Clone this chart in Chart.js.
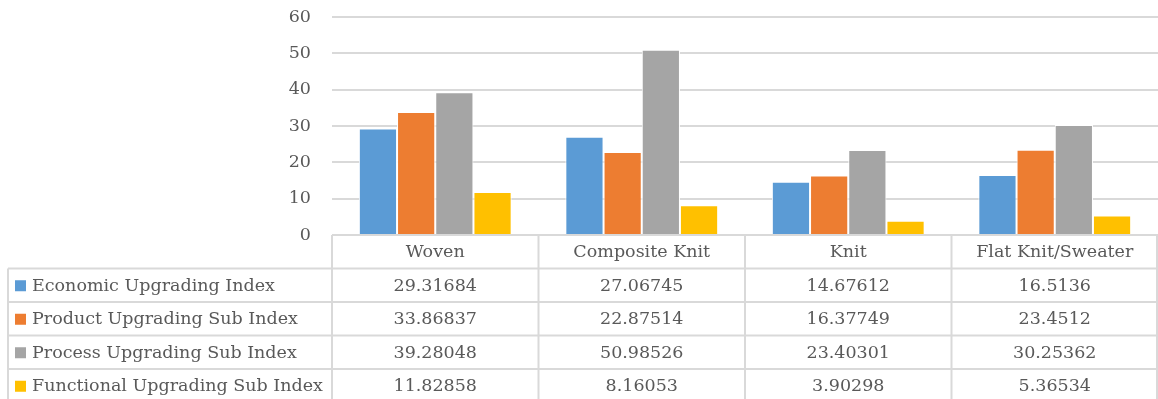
<!DOCTYPE html>
<html>
<head>
<meta charset="utf-8">
<script src="https://cdn.jsdelivr.net/npm/chart.js@4/dist/chart.umd.min.js"></script>
<style>
  html, body { margin: 0; padding: 0; background: #fff; }
  #wrap { width: 1158px; height: 399px; }
</style>
</head>
<body>
<div id="wrap"><canvas id="chart" width="1158" height="399"></canvas></div>
<script>
// categories and index values per product type
const categories = ['Woven', 'Composite Knit', 'Knit', 'Flat Knit/Sweater'];
const economic   = [29.31684, 27.06745, 14.67612, 16.5136];
const product    = [33.86837, 22.87514, 16.37749, 23.4512];
const process    = [39.28048, 50.98526, 23.40301, 30.25362];
const functional = [11.82858, 8.16053, 3.90298, 5.36534];
const seriesNames = ['Economic Upgrading Index', 'Product Upgrading Sub Index', 'Process Upgrading Sub Index', 'Functional Upgrading Sub Index'];
const yTicks = [0, 10, 20, 30, 40, 50, 60];

const colors = ['#5B9BD5', '#ED7D31', '#A5A5A5', '#FFC000'];
const FONT = '"DejaVu Serif", serif';
const FSIZE = 17.5;
const TEXT = '#595959';
const LINE = '#D9D9D9';
const LEFT = 332;      // start of plot / table value columns
const ROW_H = 33.5;

const allSeries = [economic, product, process, functional];

// data table under the plot, Excel style
const dataTable = {
    id: 'dataTable',
    afterDraw(chart){
        const ctx = chart.ctx;
        const area = chart.chartArea;
        const n = categories.length;
        const colW = (area.right - area.left) / n;
        const top = area.bottom;
        ctx.save();
        ctx.strokeStyle = LINE;
        ctx.lineWidth = 2;
        ctx.beginPath();
        ctx.moveTo(area.left, top); ctx.lineTo(area.right, top);
        for (let i = 0; i <= n; i++) {
            const x = Math.min(area.left + i * colW, chart.width - 1);
            ctx.moveTo(x, top); ctx.lineTo(x, chart.height);
        }
        ctx.moveTo(8, top + ROW_H); ctx.lineTo(8, chart.height);
        for (let r = 1; r <= allSeries.length; r++) {
            const y = top + r * ROW_H;
            ctx.moveTo(8, y); ctx.lineTo(area.right, y);
        }
        ctx.stroke();

        ctx.fillStyle = TEXT;
        ctx.font = FSIZE + 'px ' + FONT;
        ctx.textBaseline = 'middle';
        ctx.textAlign = 'center';
        categories.forEach((c, i) => {
            ctx.fillText(c, chart.scales.x.getPixelForValue(i), top + ROW_H / 2 + 1);
        });
        allSeries.forEach((vals, r) => {
            const cy = top + (r + 1.5) * ROW_H + 1;
            ctx.textAlign = 'center';
            ctx.fillStyle = TEXT;
            vals.forEach((v, i) => {
                ctx.fillText(String(v), chart.scales.x.getPixelForValue(i), cy);
            });
            ctx.fillStyle = colors[r];
            ctx.fillRect(15, cy - 6, 11, 11);
            ctx.fillStyle = TEXT;
            ctx.textAlign = 'left';
            ctx.fillText(seriesNames[r], 32, cy);
        });
        ctx.restore();
    }
};

new Chart(document.getElementById('chart'), {
    type: 'bar',
    data: {
        labels: categories,
        datasets: allSeries.map((vals, i) => ({
            label: seriesNames[i],
            data: vals,
            backgroundColor: colors[i],
            borderColor: '#ffffff',
            borderWidth: 1,
            barPercentage: 1,
            categoryPercentage: 0.74
        }))
    },
    options: {
        responsive: false,
        animation: false,
        devicePixelRatio: 1,
        layout: { padding: { top: 17, right: 0, bottom: 164, left: 0 } },
        plugins: { legend: { display: false }, tooltip: { enabled: false } },
        scales: {
            x: { display: false },
            y: {
                min: 0, max: 60,
                afterBuildTicks(scale){ scale.ticks = yTicks.map(v => ({ value: v })); },
                afterFit(scale){ scale.width = LEFT; scale.paddingTop = 0; scale.paddingBottom = 0; },
                border: { display: false },
                grid: { color: LINE, lineWidth: 2, drawTicks: false },
                ticks: { color: TEXT, padding: 21, font: { family: FONT, size: FSIZE } }
            }
        }
    },
    plugins: [dataTable]
});
</script>
</body>
</html>
